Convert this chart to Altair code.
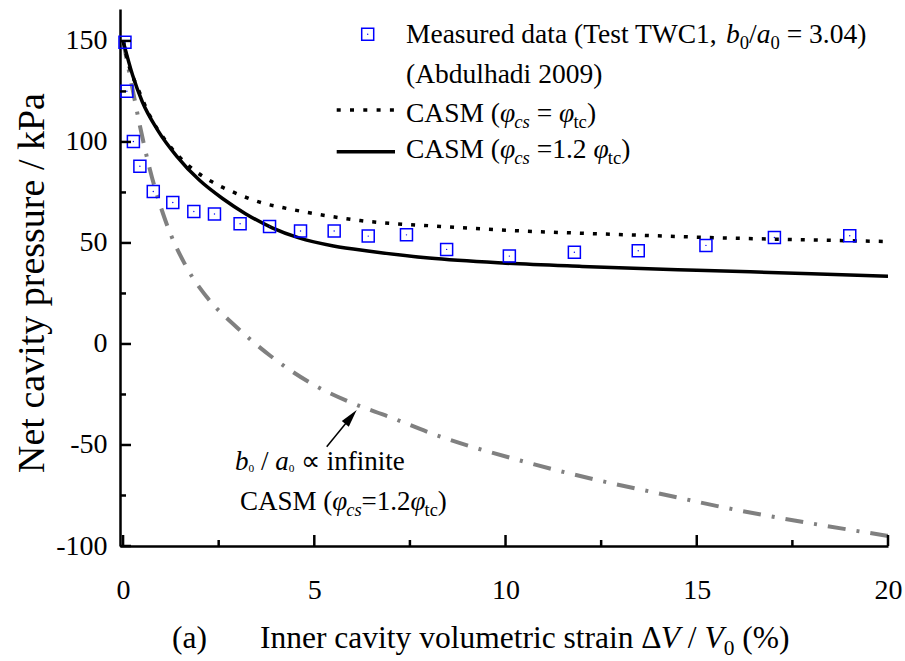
import altair as alt
import pandas as pd

FONT = "Liberation Serif, Times New Roman, serif"

# ---------------- data ----------------
meas_x = [0.05, 0.10, 0.27, 0.44, 0.79, 1.30, 1.85, 2.39, 3.06, 3.83, 4.64,
          5.52, 6.41, 7.41, 8.46, 10.10, 11.80, 13.47, 15.24, 17.03, 19.00]
meas_y = [149.4, 125.1, 100.2, 88.0, 75.5, 70.0, 65.6, 64.3, 59.5, 58.2, 55.9,
          55.9, 53.4, 54.0, 46.8, 43.5, 45.4, 46.1, 48.8, 52.7, 53.6]

casm1_x = [0, 0.15, 0.4, 0.7, 1.2, 1.7, 2.3, 2.9, 3.6, 4.2, 5.0, 6.2, 8.3,
           10.0, 11.7, 13.7, 15.5, 17.5, 20.0]
casm1_y = [150, 138, 126, 113, 98.5, 88.5, 80.5, 75, 70, 67.4, 64.5, 61.1,
           58.2, 56.3, 55, 53.7, 52.6, 51.7, 50.7]

casm12_x = [0, 0.25, 0.5, 0.9, 1.4, 2.0, 2.6, 3.2, 3.9, 4.6, 5.5, 6.5, 8.0,
            10.0, 12.0, 15.0, 18.0, 20.0]
casm12_y = [150, 133, 120, 106, 93, 81, 72, 64.5, 57.5, 52.5, 48.5, 45.8,
            42.5, 40, 38.4, 36.5, 34.8, 33.5]

inf_x = [0, 0.23, 0.44, 0.7, 1.1, 1.66, 2.19, 2.97, 3.84, 4.89, 5.93, 6.98,
         8.1, 10.38, 12.64, 13.87, 16.1, 18.05, 20.0]
inf_y = [150, 128, 108, 86.5, 61.5, 38, 23.2, 8.3, -5.7, -19.2, -28.8, -36.2,
         -44.5, -57.7, -68.4, -73.4, -82.4, -89, -95]

x_major = [0, 5, 10, 15, 20]
x_minor = [2.5, 7.5, 12.5, 17.5]
y_major = [-100, -50, 0, 50, 100, 150]
y_minor = [-75, -25, 25, 75, 125]

# ---------------- layout ----------------
W, H = 768, 537
X_DOMAIN = [-0.08, 20.0]
Y_DOMAIN = [-100, 165.8]

xs = alt.Scale(domain=X_DOMAIN, nice=False, zero=False)
ys = alt.Scale(domain=Y_DOMAIN, nice=False, zero=False)

x_axis = alt.Axis(values=x_major, title=None, grid=False, ticks=False, tickSize=0,
                  domainColor="black", domainWidth=2.5, labelFont=FONT,
                  labelFontSize=28, labelColor="black", labelPadding=44,
                  labelBaseline="middle", labelFlush=False, labelOverlap=False,
                  labelExpr="'' + datum.value")
y_axis = alt.Axis(values=y_major, title=None, grid=False, ticks=False, tickSize=0,
                  domainColor="black", domainWidth=2.5, labelFont=FONT,
                  labelFontSize=28, labelColor="black", labelPadding=13,
                  labelFlush=False, labelOverlap=False,
                  labelExpr="'' + datum.value")

X = lambda f: alt.X(f, scale=xs, axis=x_axis)
Y = lambda f: alt.Y(f, scale=ys, axis=y_axis)

layers = []

# curves
def curve(xv, yv, color, width, dash=None):
    df = pd.DataFrame({"x": xv, "y": yv})
    kw = dict(color=color, strokeWidth=width, interpolate="monotone", clip=True)
    if dash:
        kw["strokeDash"] = dash
    return alt.Chart(df).mark_line(**kw).encode(x=X("x:Q"), y=Y("y:Q"))

layers.append(curve(inf_x, inf_y, "#808080", 4, [18, 11, 3, 11]))
layers.append(curve(casm1_x, casm1_y, "black", 3.5, [4, 9]))
layers.append(curve(casm12_x, casm12_y, "black", 3.5))

# measured points
df_meas = pd.DataFrame({"x": meas_x, "y": meas_y})
layers.append(alt.Chart(df_meas).mark_point(shape="square", size=144, filled=False,
              color="#0000ff", strokeWidth=1.5, opacity=1).encode(x=X("x:Q"), y=Y("y:Q")))
layers.append(alt.Chart(df_meas).mark_point(shape="circle", size=2, filled=True,
              color="#0000ff", opacity=1).encode(x=X("x:Q"), y=Y("y:Q")))

# inward ticks
def xticks(vals, length):
    return alt.Chart(pd.DataFrame({"v": vals})).mark_rule(color="black", strokeWidth=2.5).encode(
        x=X("v:Q"), y=alt.value(H), y2=alt.value(H - length))

def yticks(vals, length):
    return alt.Chart(pd.DataFrame({"v": vals})).mark_rule(color="black", strokeWidth=2.5).encode(
        y=Y("v:Q"), x=alt.value(0), x2=alt.value(length))

layers += [xticks(x_major, 11), xticks(x_minor, 6), yticks(y_major, 11), yticks(y_minor, 6)]

# ---------------- rich text helpers ----------------
TW = {' ': 250, '(': 333, ')': 333, ',': 250, '.': 250, '/': 278, '=': 564,
      '%': 833, '-': 333, 'Δ': 612, 'φ': 550, '∝': 713,
      'A': 722, 'B': 667, 'C': 667, 'D': 722, 'E': 611, 'I': 333, 'M': 889,
      'N': 722, 'P': 556, 'S': 556, 'T': 611, 'V': 722, 'W': 944,
      'a': 444, 'b': 500, 'c': 444, 'd': 500, 'e': 444, 'f': 333, 'h': 500,
      'i': 278, 'l': 278, 'm': 778, 'n': 500, 'o': 500, 'r': 333, 's': 389,
      't': 278, 'u': 500, 'v': 500, 'y': 500}
for _d in "0123456789":
    TW[_d] = 500
TWI = {'a': 500, 'b': 500, 'c': 444, 's': 389, 't': 278, 'V': 611, 'φ': 520}

dummy = pd.DataFrame({"d": [0]})

def seg_w(text, italic, fs):
    tbl = TWI if italic else {}
    return sum(tbl.get(ch, TW.get(ch, 500)) for ch in text) / 1000.0 * fs

def text_mark(text, x, y, fs, italic=False, angle=0, align="left", baseline="alphabetic"):
    kw = dict(text=text, font=FONT, fontSize=fs, fontStyle="italic" if italic else "normal",
              align=align, baseline=baseline, color="black")
    if angle:
        kw["angle"] = angle
    return alt.Chart(dummy).mark_text(**kw).encode(x=alt.value(x), y=alt.value(y))

def rich(x0, y0, base, segs):
    out = []
    x = x0
    for text, italic, kind in segs:
        if kind == "sub":
            fs, dy = base * 0.68, base * 0.22
        elif kind == "tiny":
            fs, dy = base * 0.42, base * 0.08
        else:
            fs, dy = base, 0
        lead = len(text) - len(text.lstrip(" "))
        shown = text.strip(" ")
        if shown:
            out.append(text_mark(shown, x + seg_w(" " * lead, italic, fs), y0 + dy, fs, italic))
        x += seg_w(text, italic, fs)
    return out

LF = 27.5
# legend
layers.append(alt.Chart(dummy).mark_point(shape="square", size=144, filled=False,
              color="#0000ff", strokeWidth=1.5, opacity=1).encode(x=alt.value(247.7), y=alt.value(25.3)))
layers.append(alt.Chart(dummy).mark_point(shape="circle", size=2, filled=True,
              color="#0000ff", opacity=1).encode(x=alt.value(247.7), y=alt.value(25.3)))
layers += rich(286, 34.3, LF, [("Measured data (Test TWC1, ", False, "n"), ("b", True, "n"),
                               ("0", False, "sub"), ("/", False, "n"), ("a", True, "n"),
                               ("0", False, "sub"), (" = 3.04)", False, "n")])
layers += rich(286, 73.7, LF, [("(Abdulhadi 2009)", False, "n")])
layers.append(alt.Chart(dummy).mark_rule(color="black", strokeWidth=3.5, strokeDash=[4, 9.3]).encode(
    x=alt.value(216.7), x2=alt.value(276), y=alt.value(101)))
layers += rich(286, 112.7, LF, [("CASM (", False, "n"), ("φ", True, "n"), ("cs", True, "sub"),
                                (" = ", False, "n"), ("φ", True, "n"), ("tc", False, "sub"),
                                (")", False, "n")])
layers.append(alt.Chart(dummy).mark_rule(color="black", strokeWidth=3.5).encode(
    x=alt.value(216.7), x2=alt.value(275), y=alt.value(142.7)))
layers += rich(286, 149.3, LF, [("CASM (", False, "n"), ("φ", True, "n"), ("cs", True, "sub"),
                                (" =1.2 ", False, "n"), ("φ", True, "n"), ("tc", False, "sub"),
                                (")", False, "n")])

# annotation
layers += rich(115, 461, 27, [("b", True, "n"), ("0", False, "tiny"), (" / ", False, "n"),
                              ("a", True, "n"), ("0", False, "tiny"), (" ∝ infinite", False, "n")])
layers += rich(120, 501, 27, [("CASM (", False, "n"), ("φ", True, "n"), ("cs", True, "sub"),
                              ("=1.2", False, "n"), ("φ", True, "n"), ("tc", False, "sub"),
                              (")", False, "n")])
layers.append(alt.Chart(dummy).mark_rule(color="black", strokeWidth=1.5).encode(
    x=alt.value(206.7), y=alt.value(437.7), x2=alt.value(226.5), y2=alt.value(413.5)))
layers.append(alt.Chart(dummy).mark_point(shape="M0,-1L0.5,1L-0.5,1Z", filled=True, color="black",
              size=324, angle=39.3, opacity=1).encode(x=alt.value(231), y=alt.value(408)))

# axis titles
layers += rich(52, 639, 31.5, [("(a)", False, "n")])
layers += rich(140, 639, 31.5, [("Inner cavity volumetric strain Δ", False, "n"), ("V", True, "n"),
                                (" / ", False, "n"), ("V", True, "n"), ("0", False, "sub"),
                                (" (%)", False, "n")])
layers.append(text_mark("Net cavity pressure / kPa", -87, 274, 38, angle=270,
                        align="center", baseline="middle"))

chart = alt.layer(*layers).properties(
    width=W, height=H,
    autosize=alt.AutoSizeParams(type="none"),
    padding={"left": 120, "top": 9, "right": 17, "bottom": 115},
    background="white",
).configure_view(stroke=None)

chart.save("out.html", embed_options={"renderer": "svg", "actions": False})
